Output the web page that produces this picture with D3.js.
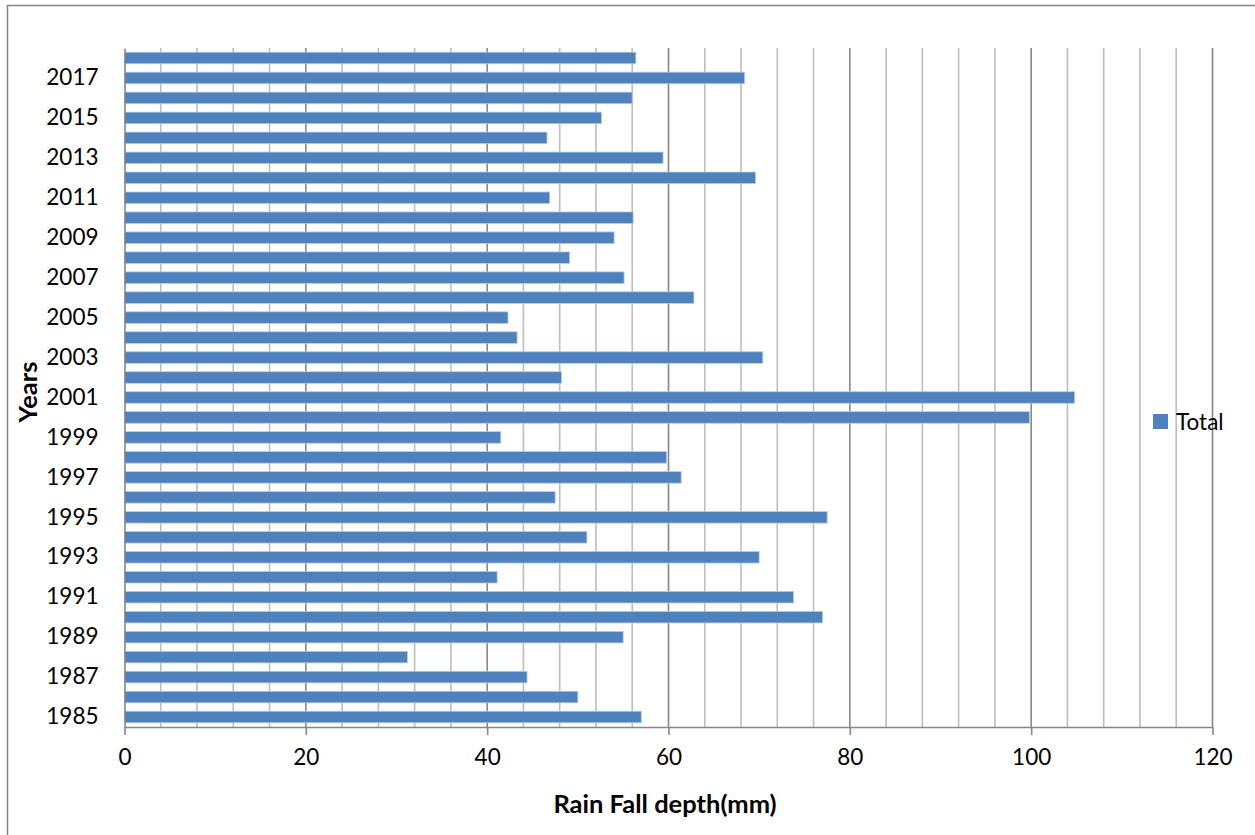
<!DOCTYPE html>
<html>
<head>
<meta charset="utf-8">
<script src="https://cdn.jsdelivr.net/npm/d3@7"></script>
<style>
  html, body { margin: 0; padding: 0; background: #fff; }
  svg { display: block; }
  text { font-family: Lato, "Open Sans", sans-serif; fill: #000; }
</style>
</head>
<body>
<svg id="chart" width="1255" height="835"></svg>
<script>
// Annual rainfall depth (mm), 1985–2018
const years = [1985, 1986, 1987, 1988, 1989, 1990, 1991, 1992, 1993, 1994,
  1995, 1996, 1997, 1998, 1999, 2000, 2001, 2002, 2003, 2004,
  2005, 2006, 2007, 2008, 2009, 2010, 2011, 2012, 2013, 2014,
  2015, 2016, 2017, 2018];
const totals = [57.0, 50.0, 44.4, 31.2, 55.0, 77.0, 73.8, 41.1, 70.0, 51.0,
  77.5, 47.5, 61.4, 59.8, 41.5, 99.8, 104.8, 48.2, 70.4, 43.3,
  42.3, 62.8, 55.1, 49.1, 54.0, 56.1, 46.9, 69.6, 59.4, 46.6,
  52.6, 56.0, 68.4, 56.4];
const xTicks = [0, 20, 40, 60, 80, 100, 120];
const xGrid = d3.range(0, 121, 4);
const yLabels = years.filter(y => y % 2 === 1);
const seriesName = "Total";
const xTitle = "Rain Fall depth(mm)";
const yTitle = "Years";

const svg = d3.select("#chart");
const plotLeft = 124.5, plotRight = 1212.5, plotTop = 48, plotBottom = 727;

// Chart frame
svg.append("rect")
  .attr("x", 7.5).attr("y", 5.5)
  .attr("width", 1300).attr("height", 900)
  .attr("fill", "none").attr("stroke", "#868686").attr("stroke-width", 1.5);

const x = d3.scaleLinear().domain([0, 120]).range([plotLeft, plotRight]);
const y = d3.scaleBand()
  .domain(years.slice().reverse())
  .range([plotTop, plotBottom])
  .paddingInner(0.42).paddingOuter(0.21);

// Vertical gridlines: light every 4, darker every 20
svg.append("g").selectAll("line")
  .data(xGrid.filter(v => v > 0))
  .join("line")
  .attr("x1", d => x(d)).attr("x2", d => x(d))
  .attr("y1", plotTop).attr("y2", plotBottom)
  .attr("stroke", d => d % 20 === 0 ? "#878787" : "#bdbdbd")
  .attr("stroke-width", 1.6);

// Bars
svg.append("g").selectAll("rect")
  .data(years.map((yr, i) => ({ yr, v: totals[i] })))
  .join("rect")
  .attr("x", x(0))
  .attr("y", d => y(d.yr))
  .attr("width", d => x(d.v) - x(0))
  .attr("height", y.bandwidth())
  .attr("fill", "#4f81bd")
  .attr("stroke", "#b9cde5").attr("stroke-width", 0.8);

// X axis
const xAxis = svg.append("g")
  .attr("transform", `translate(0,${plotBottom})`)
  .call(d3.axisBottom(x).tickValues(xTicks).tickSize(8).tickPadding(14).tickSizeOuter(0));
xAxis.select(".domain").attr("stroke", "#868686").attr("stroke-width", 1.6);
xAxis.selectAll(".tick line").attr("stroke", "#868686").attr("stroke-width", 1.6);
xAxis.selectAll(".tick text")
  .attr("font-size", 22.5).attr("font-family", "Lato, sans-serif").attr("fill", "#000");

// Y axis
const yAxis = svg.append("g")
  .attr("transform", `translate(${plotLeft},0)`)
  .call(d3.axisLeft(y).tickValues(yLabels).tickSize(0).tickPadding(26).tickSizeOuter(0));
yAxis.select(".domain").attr("stroke", "#868686").attr("stroke-width", 1.6);
yAxis.selectAll(".tick text")
  .attr("font-size", 22.5).attr("font-family", "Lato, sans-serif").attr("fill", "#000");

// Axis titles
svg.append("text")
  .attr("x", 665).attr("y", 813)
  .attr("text-anchor", "middle")
  .attr("font-size", 25.5).attr("font-weight", "bold")
  .text(xTitle);

svg.append("text")
  .attr("transform", "translate(37,392) rotate(-90)")
  .attr("text-anchor", "middle")
  .attr("font-size", 25.5).attr("font-weight", "bold")
  .text(yTitle);

// Legend
const legend = svg.append("g").attr("transform", "translate(1153,414)");
legend.append("rect").attr("width", 15).attr("height", 15).attr("fill", "#4f81bd");
legend.append("text").attr("x", 23).attr("y", 15.5)
  .attr("font-size", 22.5).text(seriesName);
</script>
</body>
</html>
